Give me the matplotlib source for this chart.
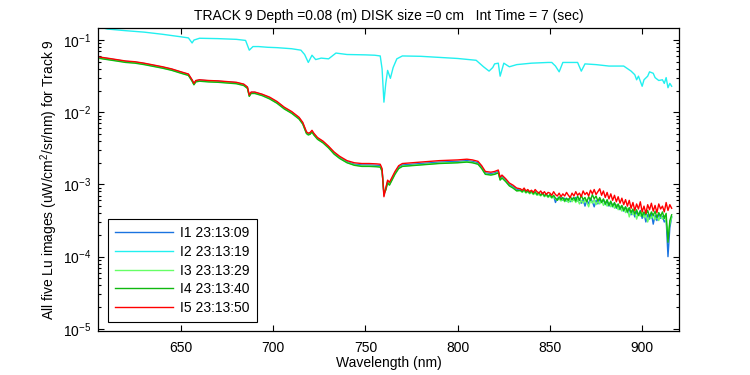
import numpy as np
import matplotlib
matplotlib.use("Agg")
import matplotlib.pyplot as plt
from matplotlib.ticker import LogLocator, NullFormatter, FixedLocator

plt.rcParams['font.family'] = ['Liberation Sans', 'DejaVu Sans']
plt.rcParams['mathtext.fontset'] = 'custom'
plt.rcParams['mathtext.rm'] = 'Liberation Sans'
plt.rcParams['mathtext.it'] = 'Liberation Sans'

# wavelength grid of the four lower spectra (coarse where smooth, 1 nm where noisy)
wl_low = np.array([606, 610, 615, 620, 625, 630, 635, 640, 645, 650,
                   654, 656, 657, 658, 660, 665, 670, 675, 680, 684,
                   686, 687, 688, 690, 694, 698, 702, 706, 710, 714,
                   716, 718, 719, 720, 721, 722, 724, 727, 730, 733,
                   736, 740, 744, 748, 752, 756, 758, 759, 760, 761,
                   762, 763, 764, 766, 768, 770, 775, 780, 785, 790,
                   795, 800, 805, 808, 811, 813, 815, 818, 820, 822,
                   823, 824, 826, 828, 830, 832] + list(range(834, 917)))

# log10 of Lu
i1_log = [-1.24, -1.255, -1.275, -1.295, -1.305, -1.325, -1.35, -1.375, -1.405, -1.445,
          -1.475, -1.555, -1.605, -1.565, -1.555, -1.565, -1.57, -1.58, -1.59, -1.615,
          -1.655, -1.765, -1.725, -1.725, -1.755, -1.80, -1.86, -1.94, -2.00, -2.08,
          -2.15, -2.28, -2.30, -2.29, -2.26, -2.30, -2.36, -2.41, -2.48, -2.565,
          -2.625, -2.685, -2.72, -2.73, -2.73, -2.735, -2.74, -2.80, -3.15, -3.06,
          -2.96, -2.99, -2.94, -2.84, -2.76, -2.73, -2.72, -2.71, -2.70, -2.69,
          -2.685, -2.68, -2.67, -2.68, -2.70, -2.76, -2.84, -2.85, -2.84, -2.82,
          -2.92, -2.89, -2.94, -3.00, -3.03, -3.07,
          -3.08, -3.10, -3.08, -3.11, -3.09, -3.12, -3.10, -3.13, -3.11, -3.14,
          -3.13, -3.15, -3.12, -3.16, -3.14, -3.17, -3.15, -3.18, -3.16, -3.25,
          -3.19, -3.21, -3.18, -3.22, -3.19, -3.23, -3.20, -3.24, -3.19, -3.22,
          -3.18, -3.23, -3.20, -3.26, -3.21, -3.30, -3.22, -3.27, -3.19, -3.24,
          -3.31, -3.22, -3.27, -3.20, -3.25, -3.21, -3.28, -3.23, -3.30, -3.25,
          -3.31, -3.26, -3.33, -3.28, -3.35, -3.30, -3.37, -3.31, -3.39, -3.34,
          -3.42, -3.36, -3.45, -3.38, -3.43, -3.36, -3.47, -3.40, -3.52, -3.42,
          -3.48, -3.40, -3.55, -3.43, -3.50, -3.41, -3.47, -3.44, -3.52, -3.48,
          -4.00, -3.60, -3.45]

i3_log = [-1.25, -1.265, -1.285, -1.305, -1.315, -1.335, -1.36, -1.385, -1.415, -1.455,
          -1.485, -1.565, -1.615, -1.575, -1.565, -1.575, -1.58, -1.59, -1.60, -1.625,
          -1.665, -1.775, -1.735, -1.735, -1.765, -1.81, -1.87, -1.95, -2.01, -2.09,
          -2.16, -2.29, -2.31, -2.30, -2.27, -2.31, -2.37, -2.42, -2.49, -2.575,
          -2.635, -2.695, -2.73, -2.745, -2.745, -2.75, -2.755, -2.81, -3.13, -3.07,
          -2.97, -3.00, -2.95, -2.85, -2.775, -2.745, -2.735, -2.725, -2.715, -2.705,
          -2.70, -2.695, -2.685, -2.695, -2.715, -2.775, -2.855, -2.865, -2.855, -2.835,
          -2.935, -2.905, -2.955, -3.015, -3.045, -3.085,
          -3.09, -3.11, -3.09, -3.12, -3.10, -3.13, -3.11, -3.14, -3.12, -3.15,
          -3.14, -3.16, -3.13, -3.17, -3.15, -3.18, -3.16, -3.19, -3.17, -3.20,
          -3.22, -3.19, -3.23, -3.20, -3.24, -3.21, -3.25, -3.21, -3.24, -3.20,
          -3.25, -3.21, -3.27, -3.22, -3.26, -3.21, -3.25, -3.31, -3.22, -3.26,
          -3.21, -3.28, -3.23, -3.27, -3.22, -3.29, -3.24, -3.30, -3.25, -3.31,
          -3.27, -3.33, -3.28, -3.35, -3.30, -3.37, -3.32, -3.39, -3.33, -3.45,
          -3.36, -3.42, -3.37, -3.48, -3.40, -3.44, -3.38, -3.46, -3.41, -3.52,
          -3.43, -3.47, -3.41, -3.49, -3.44, -3.50, -3.42, -3.48, -3.43, -3.52,
          -3.70, -3.55, -3.45]

i4_log = [-1.255, -1.27, -1.29, -1.31, -1.32, -1.34, -1.365, -1.39, -1.42, -1.46,
          -1.49, -1.57, -1.62, -1.58, -1.57, -1.58, -1.585, -1.595, -1.605, -1.63,
          -1.67, -1.78, -1.74, -1.74, -1.77, -1.815, -1.875, -1.955, -2.015, -2.095,
          -2.165, -2.295, -2.315, -2.305, -2.275, -2.315, -2.375, -2.425, -2.495, -2.58,
          -2.64, -2.70, -2.735, -2.75, -2.75, -2.755, -2.76, -2.82, -3.12, -3.08,
          -2.98, -3.01, -2.96, -2.86, -2.78, -2.75, -2.74, -2.73, -2.72, -2.71,
          -2.705, -2.70, -2.69, -2.70, -2.72, -2.78, -2.86, -2.87, -2.86, -2.84,
          -2.94, -2.91, -2.96, -3.02, -3.05, -3.09,
          -3.08, -3.10, -3.07, -3.11, -3.09, -3.12, -3.09, -3.13, -3.10, -3.14,
          -3.11, -3.15, -3.12, -3.16, -3.13, -3.17, -3.14, -3.18, -3.15, -3.19,
          -3.22, -3.17, -3.21, -3.18, -3.23, -3.19, -3.22, -3.17, -3.21, -3.18,
          -3.23, -3.16, -3.22, -3.15, -3.21, -3.18, -3.24, -3.17, -3.22, -3.14,
          -3.20, -3.16, -3.23, -3.18, -3.25, -3.20, -3.27, -3.21, -3.29, -3.23,
          -3.30, -3.25, -3.32, -3.27, -3.34, -3.29, -3.36, -3.31, -3.38, -3.32,
          -3.39, -3.34, -3.41, -3.35, -3.43, -3.37, -3.44, -3.38, -3.42, -3.36,
          -3.45, -3.38, -3.43, -3.37, -3.46, -3.39, -3.44, -3.38, -3.47, -3.40,
          -3.80, -3.50, -3.42]

i5_log = [-1.236, -1.25, -1.27, -1.29, -1.30, -1.32, -1.345, -1.37, -1.40, -1.44,
          -1.47, -1.55, -1.60, -1.56, -1.55, -1.56, -1.565, -1.575, -1.585, -1.61,
          -1.65, -1.76, -1.72, -1.72, -1.75, -1.79, -1.85, -1.93, -1.99, -2.07,
          -2.14, -2.27, -2.29, -2.28, -2.25, -2.29, -2.35, -2.40, -2.47, -2.55,
          -2.61, -2.67, -2.70, -2.71, -2.71, -2.715, -2.72, -2.78, -3.17, -3.05,
          -2.94, -2.97, -2.92, -2.82, -2.74, -2.71, -2.70, -2.69, -2.68, -2.67,
          -2.665, -2.66, -2.65, -2.66, -2.68, -2.74, -2.82, -2.83, -2.82, -2.80,
          -2.90, -2.87, -2.92, -2.98, -3.01, -3.05,
          -3.06, -3.08, -3.05, -3.09, -3.07, -3.10, -3.08, -3.11, -3.07, -3.10,
          -3.12, -3.09, -3.13, -3.10, -3.14, -3.11, -3.12, -3.15, -3.10, -3.14,
          -3.16, -3.12, -3.17, -3.13, -3.16, -3.11, -3.15, -3.18, -3.12, -3.16,
          -3.10, -3.15, -3.12, -3.17, -3.09, -3.14, -3.11, -3.16, -3.08, -3.13,
          -3.07, -3.14, -3.10, -3.06, -3.15, -3.09, -3.18, -3.11, -3.20, -3.13,
          -3.22, -3.15, -3.24, -3.17, -3.26, -3.19, -3.28, -3.21, -3.30, -3.22,
          -3.33, -3.25, -3.36, -3.27, -3.34, -3.24, -3.38, -3.30, -3.40, -3.28,
          -3.35, -3.26, -3.37, -3.29, -3.39, -3.27, -3.34, -3.30, -3.38, -3.25,
          -3.36, -3.28, -3.33]

# cyan spectrum (I2) sits much higher, has its own sample points
wl_i2 = [606, 610, 620, 630, 640, 650, 654, 656, 657, 660,
         670, 680, 685, 687, 689, 692, 697, 702, 710, 715,
         717, 719, 721, 723, 726, 730, 734, 740, 750, 755,
         758, 759, 760, 761, 762, 763.5, 765, 767, 770, 780,
         790, 800, 810, 814, 817, 819, 820, 822, 823, 825,
         828, 832, 840, 849, 851, 853, 855, 857, 865, 867,
         869, 875, 882, 890, 894, 896, 897, 898, 900, 901,
         903, 904, 906, 907, 909, 911, 912, 913, 914, 915, 916]
i2_log = [-0.82, -0.847, -0.87, -0.89, -0.92, -0.955, -0.97, -1.04, -1.00, -0.975,
          -0.98, -0.99, -1.005, -1.14, -1.09, -1.09, -1.10, -1.105, -1.12, -1.14,
          -1.20, -1.31, -1.21, -1.27, -1.25, -1.26, -1.18, -1.20, -1.205, -1.21,
          -1.22, -1.40, -1.86, -1.60, -1.42, -1.53, -1.38, -1.26, -1.22, -1.225,
          -1.24, -1.255, -1.28, -1.37, -1.43, -1.38, -1.33, -1.32, -1.50, -1.32,
          -1.37, -1.34, -1.32, -1.31, -1.31, -1.36, -1.44, -1.31, -1.31, -1.43,
          -1.33, -1.34, -1.36, -1.36, -1.43, -1.48, -1.55, -1.50, -1.64, -1.55,
          -1.50, -1.44, -1.46, -1.52, -1.56, -1.55, -1.60, -1.52, -1.66, -1.60, -1.64]

labels = ['I1 23:13:09', 'I2 23:13:19', 'I3 23:13:29', 'I4 23:13:40', 'I5 23:13:50']
colors = ['#1a73e0', '#22f0f0', '#66ff66', '#10b810', '#ff0000']

fig = plt.figure(figsize=(7.5, 3.75), dpi=100)
ax = fig.add_axes([0.1307, 0.1173, 0.7747, 0.808])

ax.plot(wl_low, 10 ** np.array(i1_log), color=colors[0], lw=1.0, label=labels[0])
ax.plot(wl_i2, 10 ** np.array(i2_log), color=colors[1], lw=1.0, label=labels[1])
ax.plot(wl_low, 10 ** np.array(i3_log), color=colors[2], lw=1.0, label=labels[2])
ax.plot(wl_low, 10 ** np.array(i4_log), color=colors[3], lw=1.0, label=labels[3])
ax.plot(wl_low, 10 ** np.array(i5_log), color=colors[4], lw=1.0, label=labels[4])

ax.set_yscale('log')
ax.set_xlim(605, 920)
ax.set_ylim(10 ** -5.03, 10 ** -0.833)
ax.xaxis.set_major_locator(FixedLocator([650, 700, 750, 800, 850, 900]))
ax.yaxis.set_major_locator(LogLocator(base=10, numticks=10))
ax.yaxis.set_minor_locator(LogLocator(base=10, subs=np.arange(2, 10), numticks=10))
ax.yaxis.set_minor_formatter(NullFormatter())
ax.tick_params(which='both', direction='in', top=True, right=True, labelsize=10, width=0.8)
ax.tick_params(which='major', length=4.5)
ax.tick_params(which='minor', length=2.5)
ax.tick_params(axis='x', pad=7)
ax.tick_params(axis='y', pad=5)
for s in ax.spines.values():
    s.set_linewidth(0.9)

ax.set_title('TRACK 9 Depth =0.08 (m) DISK size =0 cm   Int Time = 7 (sec)', fontsize=10, pad=6)
ax.set_xlabel('Wavelength (nm)', fontsize=10, labelpad=1)
ax.set_ylabel('All five Lu images (uW/cm$^2$/sr/nm) for Track 9', fontsize=10, labelpad=2)

leg = ax.legend(loc='lower left', bbox_to_anchor=(10 / 581, 9 / 303), borderaxespad=0,
                fancybox=False, edgecolor='black', framealpha=1, fontsize=10,
                handlelength=4.2, labelspacing=0.34, borderpad=0.5, handletextpad=0.5)
leg.get_frame().set_linewidth(0.8)

fig.savefig('out.png', dpi=100)
